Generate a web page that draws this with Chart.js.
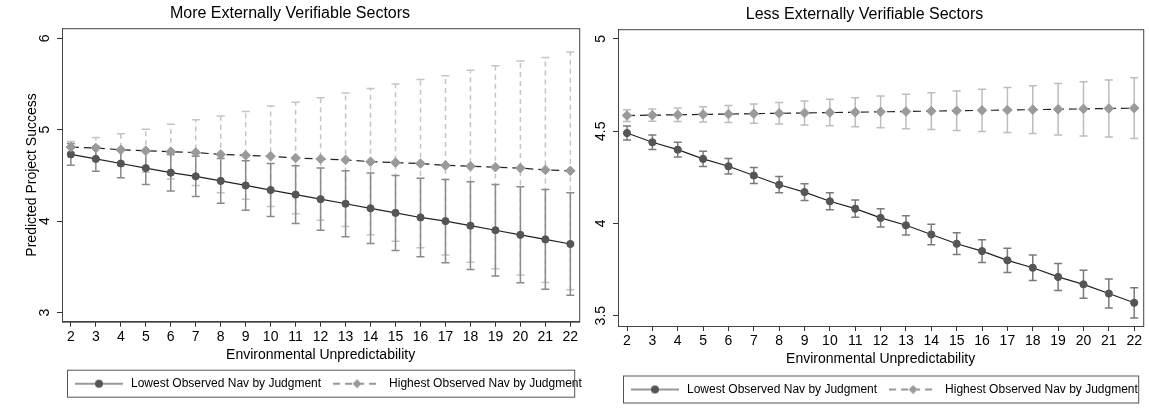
<!DOCTYPE html>
<html>
<head>
<meta charset="utf-8">
<script src="https://cdn.jsdelivr.net/npm/chart.js@4.4.0/dist/chart.umd.min.js"></script>
<style>
  html, body { margin: 0; padding: 0; background: #fff; }
  #wrap { position: relative; width: 1149px; height: 416px; }
  .panel { position: absolute; top: 0; }
  #left { left: 0; }
  #right { left: 585px; }
</style>
</head>
<body>
<div id="wrap">
  <div class="panel" id="left"><canvas id="chart-more" width="585" height="416"></canvas></div>
  <div class="panel" id="right"><canvas id="chart-less" width="564" height="416"></canvas></div>
</div>
<script>
// x categories (environmental unpredictability)
const unpredictability = [2, 3, 4, 5, 6, 7, 8, 9, 10, 11, 12, 13, 14, 15, 16, 17, 18, 19, 20, 21, 22];
const moreYTicks = [3, 4, 5, 6];
const lessYTicks = [3.5, 4, 4.5, 5];
const seriesNames = ['Lowest Observed Nav by Judgment', 'Highest Observed Nav by Judgment'];

// More externally verifiable sectors
const moreLowMean = [4.73, 4.68, 4.63, 4.58, 4.53, 4.49, 4.44, 4.39, 4.34, 4.29, 4.24, 4.19, 4.14, 4.09, 4.04, 4.00, 3.95, 3.90, 3.85, 3.80, 3.75];
const moreLowErr = [0.12, 0.135, 0.155, 0.18, 0.20, 0.22, 0.245, 0.27, 0.29, 0.315, 0.34, 0.36, 0.385, 0.41, 0.43, 0.455, 0.48, 0.50, 0.525, 0.545, 0.56];
const moreHighMean = [4.81, 4.80, 4.78, 4.77, 4.76, 4.75, 4.73, 4.72, 4.71, 4.69, 4.68, 4.67, 4.65, 4.64, 4.63, 4.61, 4.60, 4.59, 4.58, 4.56, 4.55];
const moreHighErr = [0.06, 0.115, 0.175, 0.235, 0.30, 0.36, 0.42, 0.48, 0.55, 0.61, 0.67, 0.73, 0.80, 0.86, 0.92, 0.98, 1.05, 1.11, 1.17, 1.23, 1.30];

// Less externally verifiable sectors
const lessLowMean = [4.49, 4.44, 4.40, 4.35, 4.31, 4.26, 4.21, 4.17, 4.12, 4.08, 4.03, 3.99, 3.94, 3.89, 3.85, 3.80, 3.76, 3.71, 3.67, 3.62, 3.57];
const lessLowErr = [0.038, 0.039, 0.040, 0.041, 0.042, 0.043, 0.044, 0.045, 0.046, 0.047, 0.049, 0.052, 0.056, 0.059, 0.062, 0.066, 0.069, 0.073, 0.076, 0.079, 0.082];
const lessHighMean = [4.585, 4.587, 4.589, 4.591, 4.593, 4.595, 4.597, 4.599, 4.601, 4.603, 4.605, 4.607, 4.609, 4.611, 4.613, 4.615, 4.617, 4.619, 4.621, 4.623, 4.625];
const lessHighErr = [0.032, 0.033, 0.037, 0.041, 0.046, 0.052, 0.058, 0.065, 0.072, 0.079, 0.086, 0.093, 0.100, 0.107, 0.115, 0.122, 0.130, 0.139, 0.147, 0.155, 0.165];

Chart.defaults.font.family = "'Liberation Sans', Arial, Helvetica, sans-serif";
Chart.defaults.color = '#000';

function points(mean) {
  return unpredictability.map((x, i) => ({ x: x, y: mean[i] }));
}

// each bar: low, high, then a gap
function errorBars(mean, err) {
  const out = [];
  unpredictability.forEach((x, i) => {
    out.push({ x: x, y: mean[i] - err[i] }, { x: x, y: mean[i] + err[i] }, { x: x, y: null });
  });
  return out;
}

function legendIcon(dashed) {
  const c = document.createElement('canvas');
  c.width = 48; c.height = 12;
  const g = c.getContext('2d');
  g.strokeStyle = '#333';
  g.lineWidth = 1.2;
  if (dashed) g.setLineDash([7, 5]);
  g.beginPath(); g.moveTo(0, 6); g.lineTo(48, 6); g.stroke();
  g.setLineDash([]);
  g.beginPath();
  if (dashed) {
    g.fillStyle = '#9a9a9a';
    g.moveTo(19.5, 6); g.lineTo(24, 1.5); g.lineTo(28.5, 6); g.lineTo(24, 10.5);
  } else {
    g.fillStyle = '#555';
    g.arc(24, 6, 4, 0, Math.PI * 2);
  }
  g.closePath();
  g.fill();
  return c;
}

const frame = {
  id: 'frame',
  afterLayout(chart) {
    // start legend items at the plot's left edge, keep them on one row
    const lg = chart.legend;
    lg.left = chart.chartArea.left + 1;
    lg.right = chart.width + 200;
  },
  afterDraw(chart) {
    const { ctx, chartArea: a } = chart;
    ctx.save();
    ctx.strokeStyle = '#444';
    ctx.lineWidth = 1;
    ctx.strokeRect(a.left + 0.5, a.top + 0.5, a.right - a.left, a.bottom - a.top);
    const cy = chart.legend.top + 10 + 6;
    ctx.strokeStyle = '#555';
    ctx.strokeRect(a.left + 5.5, cy - 13.5, a.right - a.left - 10, 27);
    ctx.restore();
  }
};

function makeChart(id, cfg) {
  const highBar = {
    type: 'line', data: errorBars(cfg.highMean, cfg.highErr), order: 4,
    borderColor: cfg.highBarColor, borderWidth: 1.5, borderDash: cfg.highBarDash, spanGaps: false,
    pointStyle: 'line', pointRadius: 4, pointBorderColor: cfg.highBarColor, pointBorderWidth: 1.5, pointHoverRadius: 4
  };
  const lowBar = {
    type: 'line', data: errorBars(cfg.lowMean, cfg.lowErr), order: 3,
    borderColor: cfg.lowBarColor, borderWidth: 1.5, spanGaps: false,
    pointStyle: 'line', pointRadius: 4, pointBorderColor: cfg.lowBarColor, pointBorderWidth: 1.5, pointHoverRadius: 4
  };
  const low = {
    type: 'line', label: seriesNames[0], data: points(cfg.lowMean), order: 2,
    borderColor: '#222', borderWidth: 1.2, pointStyle: 'circle', pointRadius: 3.6,
    pointBackgroundColor: '#555', pointBorderColor: '#555', pointBorderWidth: 1
  };
  const high = {
    type: 'line', label: seriesNames[1], data: points(cfg.highMean), order: 1,
    borderColor: '#222', borderWidth: 1.2, borderDash: [8, 5], pointStyle: 'rectRot', pointRadius: 4.8,
    pointBackgroundColor: '#9a9a9a', pointBorderColor: '#9a9a9a', pointBorderWidth: 1
  };
  const icons = [legendIcon(false), legendIcon(true)];

  return new Chart(document.getElementById(id), {
    type: 'line',
    data: { datasets: [highBar, lowBar, low, high] },
    options: {
      responsive: false,
      animation: false,
      layout: { padding: { top: 0, left: 0, right: 5, bottom: cfg.padBottom } },
      plugins: {
        title: { display: true, text: cfg.title, color: '#000', font: { size: 16, weight: 'normal' }, padding: { top: cfg.titleTop, bottom: 5 } },
        tooltip: { enabled: false },
        legend: {
          position: 'bottom', align: 'start',
          labels: {
            usePointStyle: true, pointStyleWidth: 52, padding: 10, font: { size: 12 }, color: '#000',
            generateLabels: () => seriesNames.map((t, i) => ({
              text: t, fontColor: '#000', pointStyle: icons[i], datasetIndex: i + 2,
              hidden: false, lineWidth: 0, strokeStyle: 'rgba(0,0,0,0)', fillStyle: 'rgba(0,0,0,0)'
            }))
          }
        }
      },
      scales: {
        x: {
          type: 'linear', min: 1.645, max: 22.355,
          afterBuildTicks: s => { s.ticks = unpredictability.map(v => ({ value: v })); },
          afterFit: s => { s.height = cfg.xHeight; },
          grid: { drawOnChartArea: false, drawTicks: true, tickLength: 5, color: '#333' },
          border: { color: '#444' },
          ticks: { color: '#000', font: { size: 14 }, padding: 2, autoSkip: false, maxRotation: 0, callback: v => String(v) },
          title: { display: true, text: 'Environmental Unpredictability', color: '#000', font: { size: 14 }, padding: { top: 0, bottom: cfg.xTitlePad } }
        },
        y: {
          type: 'linear', min: cfg.yMin, max: cfg.yMax,
          afterBuildTicks: s => { s.ticks = cfg.yTicks.map(v => ({ value: v })); },
          afterFit: s => { s.width = cfg.yWidth; },
          grid: { drawOnChartArea: false, drawTicks: true, tickLength: 5, color: '#333' },
          border: { color: '#444' },
          ticks: { color: '#000', font: { size: 14 }, minRotation: 90, maxRotation: 90, crossAlign: 'center', padding: cfg.yTickPad, callback: v => String(v) },
          title: { display: !!cfg.yTitle, text: cfg.yTitle || '', color: '#000', font: { size: 14 }, padding: { top: 23.6, bottom: 0 } }
        }
      }
    },
    plugins: [frame]
  });
}

makeChart('chart-more', {
  title: 'More Externally Verifiable Sectors',
  lowMean: moreLowMean, lowErr: moreLowErr, highMean: moreHighMean, highErr: moreHighErr,
  yTicks: moreYTicks, yMin: 2.90, yMax: 6.11, yTitle: 'Predicted Project Success',
  yWidth: 62, yTickPad: 8, xHeight: 46, xTitlePad: 4.3, padBottom: 16.3, titleTop: 4,
  lowBarColor: '#8a8a8a', highBarColor: '#c4c4c4', highBarDash: [5, 4]
});

makeChart('chart-less', {
  title: 'Less Externally Verifiable Sectors',
  lowMean: lessLowMean, lowErr: lessLowErr, highMean: lessHighMean, highErr: lessHighErr,
  yTicks: lessYTicks, yMin: 3.444, yMax: 5.053, yTitle: null,
  yWidth: 33, yTickPad: 2, xHeight: 47.5, xTitlePad: 6.1, padBottom: 10.5, titleTop: 5,
  lowBarColor: '#7a7a7a', highBarColor: '#bdbdbd', highBarDash: []
});
</script>
</body>
</html>
